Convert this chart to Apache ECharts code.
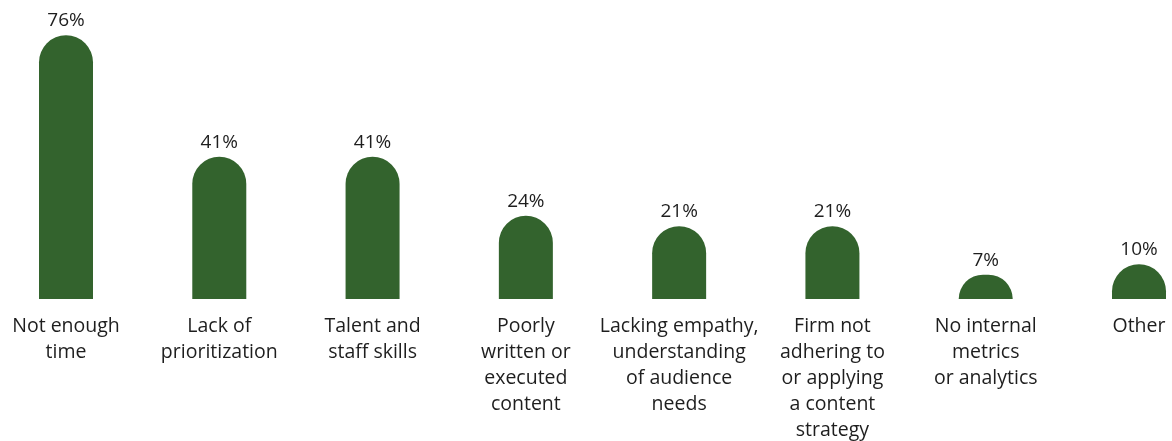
<!DOCTYPE html>
<html>
<head>
<meta charset="utf-8">
<script src="https://cdn.jsdelivr.net/npm/echarts@6/dist/echarts.min.js"></script>
<style>
html,body{margin:0;padding:0;background:#fff;}
#chart{width:1172px;height:441px;}
</style>
</head>
<body>
<div id="chart"></div>
<script>
const categories = [
  "Not enough\ntime",
  "Lack of\nprioritization",
  "Talent and\nstaff skills",
  "Poorly\nwritten or\nexecuted\ncontent",
  "Lacking empathy,\nunderstanding\nof audience\nneeds",
  "Firm not\nadhering to\nor applying\na content\nstrategy",
  "No internal\nmetrics\nor analytics",
  "Other"
];
const values = [76, 41, 41, 24, 21, 21, 7, 10];

const chart = echarts.init(document.getElementById('chart'), null, {renderer: 'canvas'});
chart.setOption({
  animation: false,
  backgroundColor: '#ffffff',
  grid: {left: 66, right: 33, top: 21.4, bottom: 142, containLabel: false, outerBoundsMode: 'none'},
  xAxis: {
    type: 'category',
    data: categories,
    boundaryGap: false,
    axisLine: {show: false},
    axisTick: {show: false},
    axisLabel: {
      interval: 0,
      margin: 14,
      fontFamily: '"Open Sans", sans-serif',
      fontSize: 19.5,
      lineHeight: 26,
      color: '#1e1e1e',
      align: 'center',
      verticalAlign: 'top'
    }
  },
  yAxis: {
    type: 'value',
    min: 0,
    max: 80,
    show: false,
    splitLine: {show: false}
  },
  series: [{
    type: 'bar',
    data: values,
    barWidth: 54,
    itemStyle: {color: '#33632d', borderRadius: [27, 27, 0, 0]},
    label: {
      show: true,
      position: 'top',
      distance: 5,
      formatter: '{c}%',
      fontFamily: '"Open Sans", sans-serif',
      fontSize: 19,
      color: '#1e1e1e'
    }
  }]
});
</script>
</body>
</html>
